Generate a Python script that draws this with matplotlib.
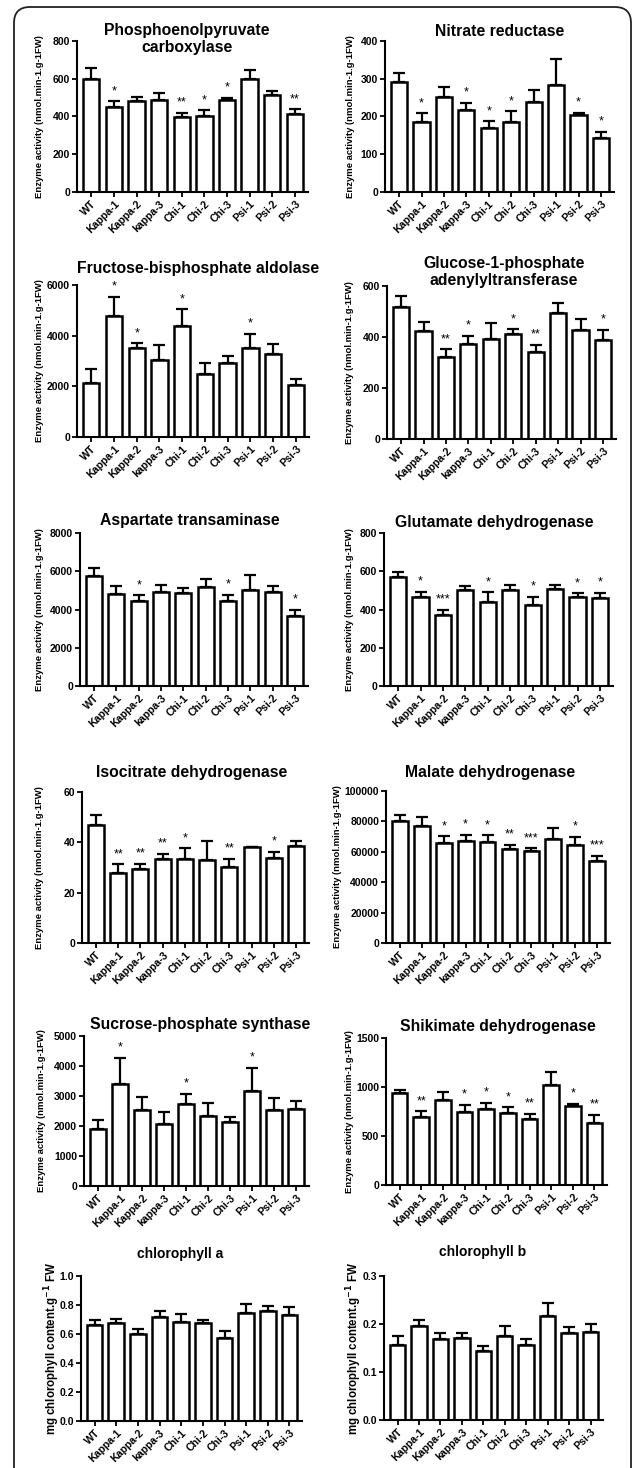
import matplotlib.pyplot as plt
import numpy as np
from matplotlib.patches import FancyBboxPatch

plt.rcParams['font.family'] = ['Liberation Sans', 'DejaVu Sans']

lines = ['WT', 'Kappa-1', 'Kappa-2', 'kappa-3', 'Chi-1', 'Chi-2', 'Chi-3',
         'Psi-1', 'Psi-2', 'Psi-3']

# Phosphoenolpyruvate carboxylase
pepc_mean = [600, 448, 482, 490, 396, 403, 487, 600, 513, 411]
pepc_err = [55, 32, 23, 35, 25, 30, 12, 45, 20, 28]
pepc_sig = ['', '*', '', '', '**', '*', '*', '', '', '**']

# Nitrate reductase
nr_mean = [292, 186, 251, 218, 170, 186, 239, 283, 203, 143]
nr_err = [22, 22, 26, 18, 17, 28, 31, 70, 7, 17]
nr_sig = ['', '*', '', '*', '*', '*', '', '', '*', '*']

# Fructose-bisphosphate aldolase
fba_mean = [2130, 4770, 3500, 3030, 4390, 2490, 2910, 3500, 3260, 2050]
fba_err = [560, 760, 200, 620, 650, 430, 300, 565, 420, 220]
fba_sig = ['', '*', '*', '', '*', '', '', '*', '', '']

# Glucose-1-phosphate adenylyltransferase
agp_mean = [519, 424, 322, 373, 391, 412, 341, 493, 427, 390]
agp_err = [42, 35, 30, 32, 64, 18, 28, 39, 42, 39]
agp_sig = ['', '', '**', '*', '', '*', '**', '', '', '*']

# Aspartate transaminase
ast_mean = [5730, 4790, 4460, 4900, 4840, 5190, 4430, 5040, 4930, 3660]
ast_err = [450, 450, 280, 380, 310, 380, 350, 780, 280, 330]
ast_sig = ['', '', '*', '', '', '', '*', '', '', '*']

# Glutamate dehydrogenase
gdh_mean = [569, 465, 372, 503, 440, 503, 426, 507, 463, 461]
gdh_err = [28, 26, 26, 21, 49, 23, 39, 21, 21, 26]
gdh_sig = ['', '*', '***', '', '*', '', '*', '', '*', '*']

# Isocitrate dehydrogenase
idh_mean = [46.8, 27.7, 29.5, 33.4, 33.4, 32.8, 30.3, 38.0, 33.8, 38.4]
idh_err = [4.0, 3.5, 2.0, 2.1, 4.3, 7.6, 3.1, 0.3, 2.4, 2.1]
idh_sig = ['', '**', '**', '**', '*', '', '**', '', '*', '']

# Malate dehydrogenase
mdh_mean = [80200, 76900, 65500, 66800, 66400, 61800, 60700, 68100, 64400, 53800]
mdh_err = [4000, 6300, 4600, 4200, 4400, 2800, 1500, 7500, 5300, 3500]
mdh_sig = ['', '', '*', '*', '*', '**', '***', '', '*', '***']

# Sucrose-phosphate synthase
sps_mean = [1910, 3400, 2550, 2080, 2740, 2320, 2150, 3170, 2540, 2570]
sps_err = [300, 880, 410, 400, 335, 435, 145, 780, 390, 256]
sps_sig = ['', '*', '', '', '*', '', '', '*', '', '']

# Shikimate dehydrogenase
skdh_mean = [939, 694, 867, 741, 772, 731, 670, 1020, 803, 629]
skdh_err = [27, 58, 82, 78, 68, 62, 58, 136, 27, 89]
skdh_sig = ['', '**', '', '*', '*', '*', '**', '', '*', '**']

# chlorophyll a / b
chla_mean = [0.660, 0.678, 0.600, 0.720, 0.683, 0.678, 0.572, 0.747, 0.756, 0.731]
chla_err = [0.037, 0.028, 0.034, 0.041, 0.055, 0.021, 0.049, 0.060, 0.040, 0.053]
chlb_mean = [0.156, 0.195, 0.168, 0.171, 0.144, 0.175, 0.156, 0.216, 0.182, 0.184]
chlb_err = [0.020, 0.014, 0.014, 0.010, 0.011, 0.020, 0.013, 0.027, 0.012, 0.016]
no_sig = [''] * 10

enz_label = 'Enzyme activity (nmol.min-1.g-1FW)'
chl_label = 'mg chlorophyll content.g$^{\\mathbf{-1}}$ FW'

W, H = 633, 1468
fig = plt.figure(figsize=(W / 100, H / 100), dpi=100)

# rounded frame around the whole figure
bg = fig.add_axes([0, 0, 1, 1], zorder=-1)
bg.set_xlim(0, W)
bg.set_ylim(H, 0)
bg.axis('off')
bg.add_patch(FancyBboxPatch((14, 7), 617, 1480, boxstyle='round,pad=0,rounding_size=16',
                            fc='white', ec='#222222', lw=1.3))

# panel: (box px left, right, top, bottom), title, title pos px, data, ylim, step, ylabel, label x px
panels = [
    ((77, 308, 41, 192), 'Phosphoenolpyruvate\ncarboxylase', (187, 39),
     pepc_mean, pepc_err, pepc_sig, 800, 200, enz_label, 40),
    ((385, 614, 41, 192), 'Nitrate reductase', (500, 32),
     nr_mean, nr_err, nr_sig, 400, 100, enz_label, 351),
    ((77, 309, 285, 437), 'Fructose-bisphosphate aldolase', (198, 268),
     fba_mean, fba_err, fba_sig, 6000, 2000, enz_label, 40),
    ((387, 616, 286, 439), 'Glucose-1-phosphate\nadenylyltransferase', (504, 272),
     agp_mean, agp_err, agp_sig, 600, 200, enz_label, 350),
    ((80, 308, 533, 686), 'Aspartate transaminase', (190, 520),
     ast_mean, ast_err, ast_sig, 8000, 2000, enz_label, 40),
    ((384, 613, 533, 686), 'Glutamate dehydrogenase', (494, 522),
     gdh_mean, gdh_err, gdh_sig, 800, 200, enz_label, 349),
    ((82, 309, 792, 943), 'Isocitrate dehydrogenase', (192, 772),
     idh_mean, idh_err, idh_sig, 60, 20, enz_label, 40),
    ((386, 610, 791, 943), 'Malate dehydrogenase', (490, 772),
     mdh_mean, mdh_err, mdh_sig, 100000, 20000, enz_label, 337),
    ((84, 309, 1036, 1186), 'Sucrose-phosphate synthase', (200, 1024),
     sps_mean, sps_err, sps_sig, 5000, 1000, enz_label, 42),
    ((386, 607, 1038, 1185), 'Shikimate dehydrogenase', (498, 1026),
     skdh_mean, skdh_err, skdh_sig, 1500, 500, enz_label, 349),
    ((81, 302, 1276, 1421), 'chlorophyll a', (180, 1254),
     chla_mean, chla_err, no_sig, 1.0, 0.2, chl_label, 52),
    ((384, 603, 1276, 1420), 'chlorophyll b', (483, 1252),
     chlb_mean, chlb_err, no_sig, 0.3, 0.1, chl_label, 354),
]

x = np.arange(len(lines))
for box, title, tpos, mean, err, sig, ymax, step, ylabel, lx in panels:
    l, r, t, b = box
    ax = fig.add_axes([l / W, 1 - b / H, (r - l) / W, (b - t) / H])
    ax.bar(x, mean, width=0.72, color='white', edgecolor='black', linewidth=1.8, zorder=2)
    ax.errorbar(x, mean, yerr=[np.zeros(len(x)), err], fmt='none', ecolor='black',
                elinewidth=1.6, capsize=4.2, capthick=1.6, zorder=1, clip_on=False)
    for xi, m, e, s in zip(x, mean, err, sig):
        if s:
            ax.annotate(s, (xi, m + e), xytext=(0, 3), textcoords='offset points',
                        ha='center', va='bottom', fontsize=9)
    ax.set_xlim(-0.63, 9.58)
    ax.set_ylim(0, ymax)
    ticks = np.arange(0, ymax + step / 2, step)
    ax.set_yticks(ticks)
    if ymax <= 1:
        ax.set_yticklabels(['%.1f' % v for v in ticks])
    else:
        ax.set_yticklabels(['%d' % v for v in ticks])
    ax.set_xticks(x)
    ax.set_xticklabels(lines, rotation=45, ha='right', rotation_mode='anchor')
    for sp in ['top', 'right']:
        ax.spines[sp].set_visible(False)
    for sp in ['left', 'bottom']:
        ax.spines[sp].set_linewidth(1.5)
    ax.tick_params(direction='out', length=3.5, width=1.3, pad=1.5)
    for lab in ax.get_yticklabels():
        lab.set_fontsize(7.5)
        lab.set_fontweight('bold')
    for lab in ax.get_xticklabels():
        lab.set_fontsize(7.6)
        lab.set_fontweight('bold')
    big = ylabel == enz_label
    fig.text(tpos[0] / W, 1 - tpos[1] / H, title, ha='center', va='center',
             fontsize=11.3 if big else 10, fontweight='bold', linespacing=1.12)
    fig.text(lx / W, 1 - (t + b) / 2 / H, ylabel, rotation=90, ha='center', va='center',
             fontsize=6.8 if big else 8.3, fontweight='bold')

fig.savefig('out.png', dpi=100)
